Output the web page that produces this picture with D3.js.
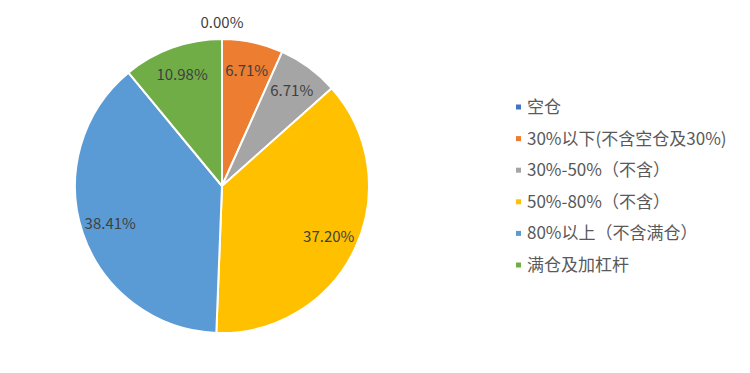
<!DOCTYPE html>
<html>
<head>
<meta charset="utf-8">
<script src="https://cdn.jsdelivr.net/npm/d3@7"></script>
<style>
  body { margin:0; background:#fff; }
  text { font-family:"Noto Sans CJK SC","Noto Sans",sans-serif; }
</style>
</head>
<body>
<svg id="viz-container" width="750" height="373"></svg>
<script>
var categories = ["空仓","30%以下(不含空仓及30%)","30%-50%（不含）","50%-80%（不含）","80%以上（不含满仓）","满仓及加杠杆"];
var shares = [0.00, 6.71, 6.71, 37.20, 38.41, 10.98];
var labels = ["0.00%","6.71%","6.71%","37.20%","38.41%","10.98%"];
var colors = ["#4472C4","#ED7D31","#A5A5A5","#FFC000","#5B9BD5","#70AD47"];

var width = 750
  , height = 373
  , cx = 222
  , cy = 186
  , radius = 147;

var svg = d3.select("#viz-container");

var color = d3.scaleOrdinal()
    .domain(categories)
    .range(colors);

var data = categories.map(function(c,i){ return {cat:c, value:shares[i], label:labels[i]}; });

var pie = d3.pie()
    .sort(null)
    .value(function(d){ return d.value; });

var arc = d3.arc()
    .innerRadius(0)
    .outerRadius(radius);

var label_arc = d3.arc()
    .innerRadius(118)
    .outerRadius(118);

var outer_arc = d3.arc()
    .innerRadius(radius+16)
    .outerRadius(radius+16);

var pie_g = svg.append("g")
    .attr("transform","translate("+cx+","+cy+")");

var arcs = pie(data);

pie_g.selectAll("path.slice")
    .data(arcs)
  .enter().append("path")
    .classed("slice",true)
    .attr("d",arc)
    .attr("fill",function(d){ return color(d.data.cat); })
    .attr("stroke","#fff")
    .attr("stroke-width",2)
    .attr("stroke-linejoin","round");

// zero slices get their label outside the pie
pie_g.selectAll("text.pct")
    .data(arcs)
  .enter().append("text")
    .classed("pct",true)
    .attr("transform",function(d){
      var p = (d.data.value==0)? outer_arc.centroid(d) : label_arc.centroid(d);
      return "translate("+p[0]+","+p[1]+")";
    })
    .attr("dy","0.35em")
    .style("text-anchor","middle")
    .style("font-size","15px")
    .style("fill","#404040")
    .text(function(d){ return d.data.label; });

var legend = svg.append("g")
    .attr("transform","translate(516,107)");

var rows = legend.selectAll("g.row")
    .data(categories)
  .enter().append("g")
    .classed("row",true)
    .attr("transform",function(d,i){ return "translate(0,"+(i*31.6)+")"; });

rows.append("rect")
    .attr("x",0)
    .attr("y",-2.5)
    .attr("width",5)
    .attr("height",5)
    .attr("fill",function(d){ return color(d); });

rows.append("text")
    .attr("x",11)
    .attr("dy","0.35em")
    .style("font-size","17px")
    .style("fill","#595959")
    .text(function(d){ return d; });
</script>
</body>
</html>
